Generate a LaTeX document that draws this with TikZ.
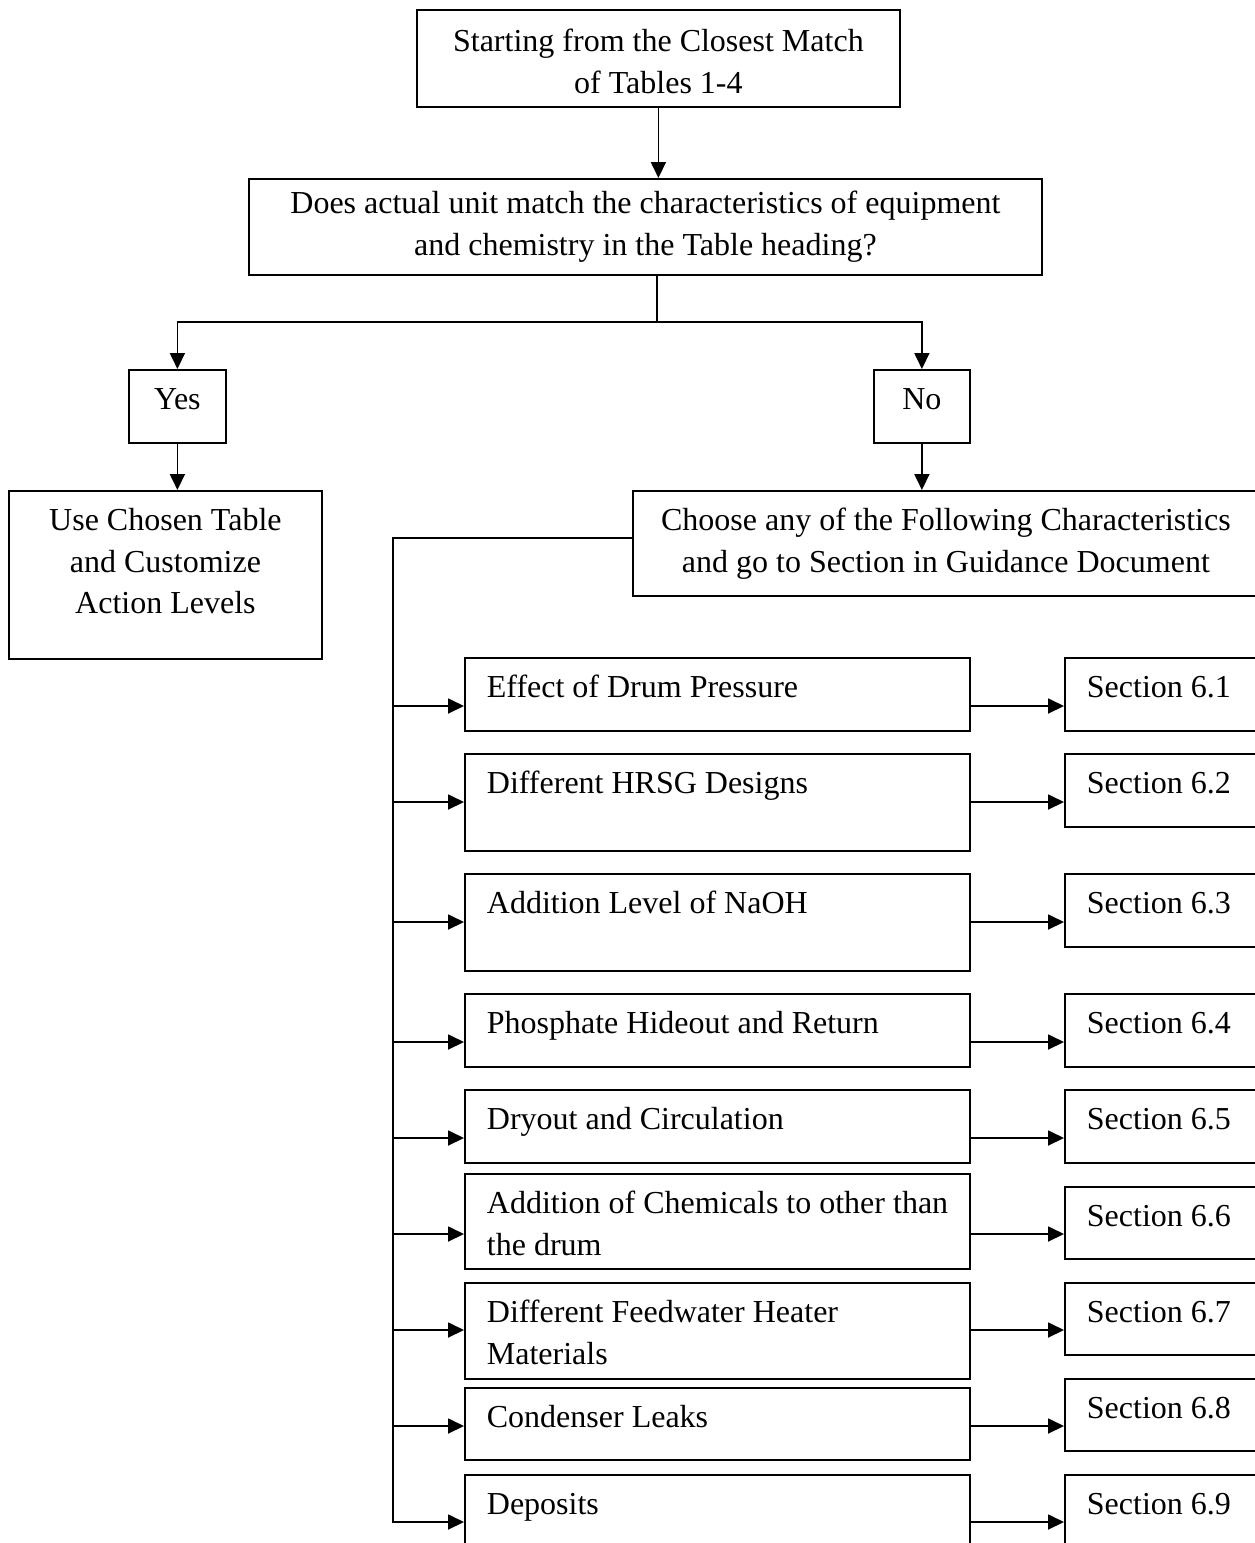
\documentclass[tikz,border=0pt]{standalone}
\usepackage{fontspec}
\setmainfont{Liberation Serif}
\usepackage{tikz}
\usetikzlibrary{arrows.meta}
\usetikzlibrary{calc}
\tikzset{every picture/.style={line width=1.8pt},
>={Triangle[length=16pt,width=15pt]},
box/.style={draw, anchor=north west, inner xsep=22pt, inner ysep=12pt, text height=28pt, font=\fontsize{32pt}{41.5pt}\selectfont}}

\begin{document}
\begin{tikzpicture}[x=1pt,y=-1pt]
\useasboundingbox (0,0) rectangle (1255,1543);
\clip (0,0) rectangle (1255,1543);

\node (start) at (416,9) [box, text width=439pt, text height=30pt, text depth=43pt, align=flush center] {Starting from the Closest Match\\of Tables 1-4};
\node (match) at (248,178) [box, text width=749pt, text height=23pt, text depth=49pt, align=flush center] {Does actual unit match the characteristics of equipment\\and chemistry in the Table heading?};
\draw[->] (start) -- (start.south |- match.north);

\coordinate (split) at (657,322);
\draw (split |- match.south) -- (split);
\node (yes) at (128,369) [box, text width=53pt, text depth=21pt, align=flush center] {Yes};
\node (no) at (873,369) [box, text width=52pt, text depth=21pt, align=flush center] {No};
\draw[->] (split) -| (yes.north);
\draw[->] (split) -| (no.north);

\node (usetable) at (8,490) [box, text width=269pt, text depth=116pt, align=flush center] {Use Chosen Table\\and Customize\\Action Levels};
\node (choose) at (632,490) [box, text width=582pt, text depth=53pt, align=flush center] {Choose any of the Following Characteristics\\and go to Section in Guidance Document};
\draw[->] (yes) -- (yes.south |- usetable.north);
\draw[->] (no) -- (no.south |- choose.north);

\foreach \i/\rowtop/\rowh/\sectop/\sech/\arry/\rowtext in {
1/657/73/657/73/706/{Effect of Drum Pressure},
2/753/97/753/73/802/{Different HRSG Designs},
3/873/97/873/73/922/{Addition Level of NaOH},
4/993/73/993/73/1042/{Phosphate Hideout and Return},
5/1089/73/1089/73/1138/{Dryout and Circulation},
6/1173/95/1186/72/1234/{\mbox{Addition of Chemicals to other than}\\the drum},
7/1282/96/1282/72/1330/{Different Feedwater Heater\\Materials},
8/1387/72/1378/72/1426/{Condenser Leaks},
9/1474/100/1474/100/1522/{Deposits}} {
\node (item\i) at (464,\rowtop) [box, text width=461pt, text depth={(\rowh-52)*1pt}, align=flush left] {\rowtext};
\node (sec\i) at (1064,\sectop) [box, text width=156pt, text depth={(\sech-52)*1pt}, align=flush left] {Section 6.\i};
\coordinate (a\i) at (393,\arry);
\draw[->] (a\i) -- (item\i.west |- a\i);
\draw[->] (item\i.east |- a\i) -- (sec\i.west |- a\i);
}
\coordinate (bustop) at (393,538);
\draw[line cap=rect] (choose.west |- bustop) -- (bustop) -- (a9);
\end{tikzpicture}
\end{document}
